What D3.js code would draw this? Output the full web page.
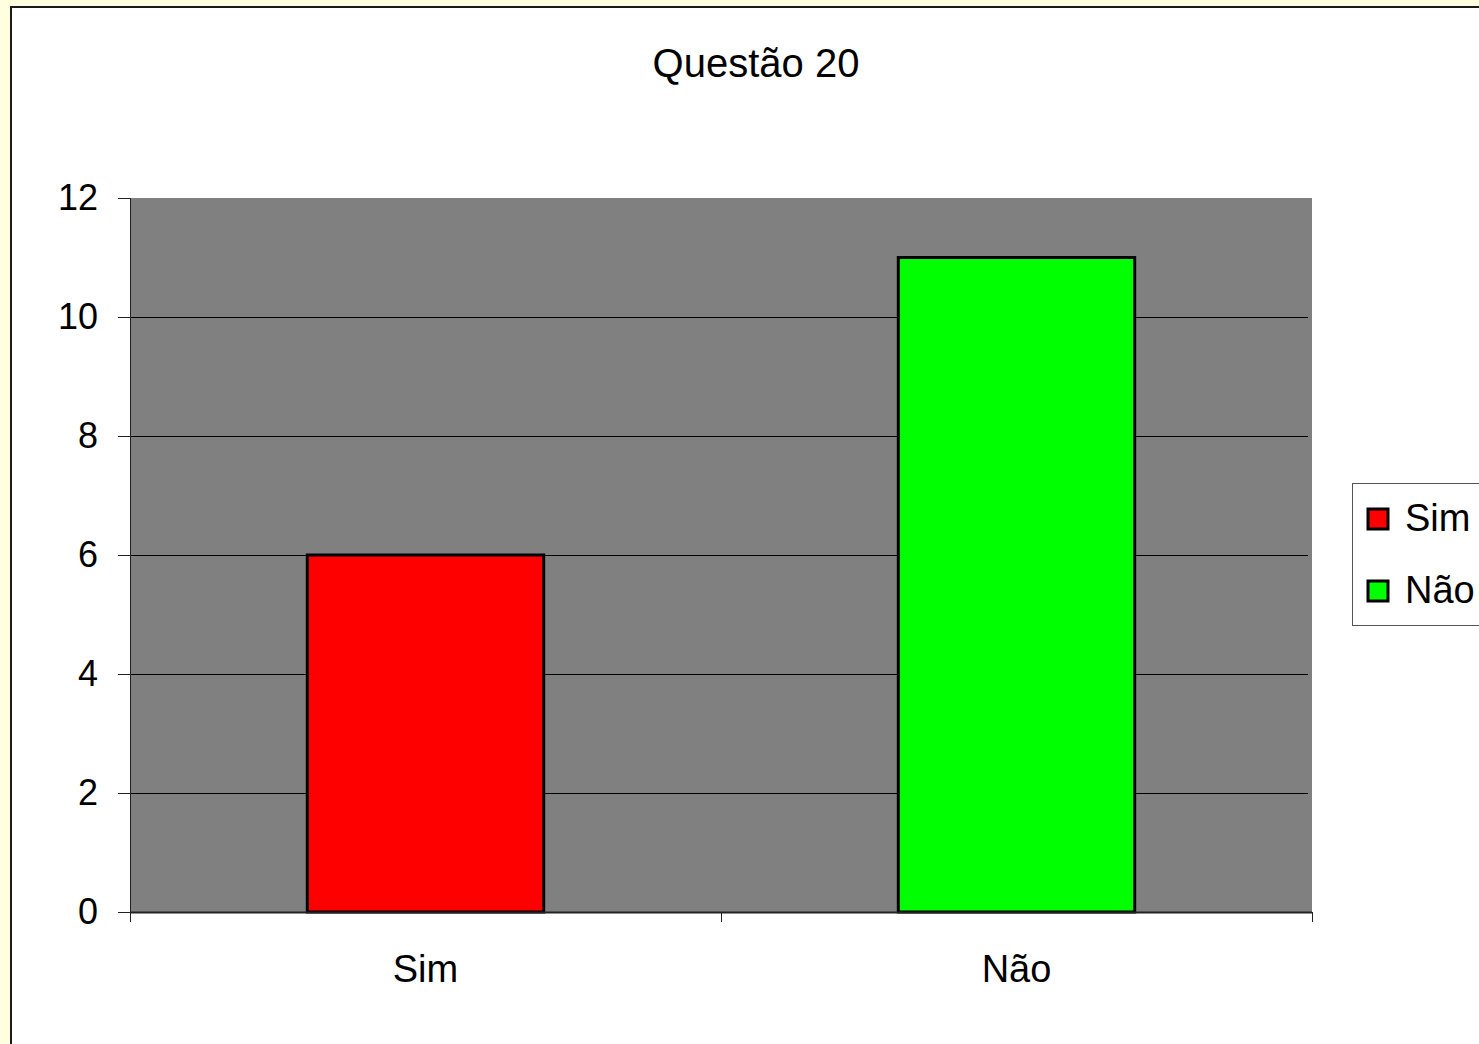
<!DOCTYPE html>
<meta charset="utf-8">
<script src="https://d3js.org/d3.v7.min.js"></script>
<style>
  body { margin: 0; background: #ffffe0; }
  svg { display: block; font-family: Arial, "Liberation Sans", sans-serif; }
</style>
<div id="chart"></div>
<script>

// data
var categories = ["Sim", "Não"];
var values = [6, 11];
var colors = ["#ff0000", "#00ff00"];
var yTicks = [0, 2, 4, 6, 8, 10, 12];
var title = "Questão 20";

var W = 1479, H = 1044;
var plot = {left: 130, right: 1312, top: 198, bottom: 912};
var fs = 38;

var svg = d3.select("#chart").append("svg")
    .attr("width", W)
    .attr("height", H);

// chart area (white, bordered)
svg.append("rect")
    .attr("x", 11).attr("y", 7)
    .attr("width", W).attr("height", H)
    .attr("fill", "#ffffff")
    .attr("stroke", "#1a1a1a")
    .attr("stroke-width", 2);

var x = d3.scaleBand()
    .domain(categories)
    .range([plot.left, plot.right])
    .paddingInner(0.6)
    .paddingOuter(0.3);

var y = d3.scaleLinear()
    .domain([0, 12])
    .range([plot.bottom, plot.top]);

// plot background
svg.append("rect")
    .attr("x", plot.left).attr("y", plot.top)
    .attr("width", plot.right - plot.left)
    .attr("height", plot.bottom - plot.top)
    .attr("fill", "#808080");

// gridlines
svg.selectAll(".grid")
    .data(yTicks.filter(function(d) { return d > 0 && d < 12; }))
    .enter().append("line")
    .attr("x1", plot.left).attr("x2", plot.right - 4)
    .attr("y1", function(d) { return Math.round(y(d)) + 0.5; })
    .attr("y2", function(d) { return Math.round(y(d)) + 0.5; })
    .attr("stroke", "#000")
    .attr("stroke-width", 1);

// bars
svg.selectAll(".bar")
    .data(values)
    .enter().append("rect")
    .attr("class", "bar")
    .attr("x", function(d, i) { return x(categories[i]); })
    .attr("y", function(d) { return y(d); })
    .attr("width", x.bandwidth())
    .attr("height", function(d) { return y(0) - y(d); })
    .attr("fill", function(d, i) { return colors[i]; })
    .attr("stroke", "#000")
    .attr("stroke-width", 3);

// y axis
var yAxis = d3.axisLeft(y).tickValues(yTicks).tickSize(12).tickPadding(20);
var gy = svg.append("g")
    .attr("transform", "translate(" + plot.left + ",0)")
    .call(yAxis);
gy.selectAll("text").attr("font-size", 36).attr("font-family", "Arial, 'Liberation Sans', sans-serif").attr("fill", "#000");
gy.selectAll("line, path").attr("stroke", "#222");
gy.select(".domain").attr("d", "M0.5," + plot.top + "V" + (plot.bottom + 10));

// x axis with boundary ticks
var gx = svg.append("g")
    .attr("transform", "translate(0," + plot.bottom + ")");
gx.append("line")
    .attr("x1", plot.left).attr("x2", plot.right)
    .attr("y1", 0.5).attr("y2", 0.5)
    .attr("stroke", "#222").attr("stroke-width", 2);
var bounds = [plot.left, (plot.left + plot.right) / 2, plot.right];
gx.selectAll(".tk")
    .data(bounds)
    .enter().append("line")
    .attr("x1", function(d) { return Math.round(d) + 0.5; })
    .attr("x2", function(d) { return Math.round(d) + 0.5; })
    .attr("y1", 0).attr("y2", 10)
    .attr("stroke", "#222");
gx.selectAll(".lbl")
    .data(categories)
    .enter().append("text")
    .attr("x", function(d) { return x(d) + x.bandwidth() / 2; })
    .attr("y", 70)
    .attr("text-anchor", "middle")
    .attr("font-size", fs)
    .text(function(d) { return d; });

// title
svg.append("text")
    .attr("x", 756).attr("y", 77)
    .attr("text-anchor", "middle")
    .attr("font-size", 40)
    .text(title);

// legend
var lg = svg.append("g").attr("transform", "translate(1352,483)");
lg.append("rect")
    .attr("x", 0.5).attr("y", 0.5)
    .attr("width", 140).attr("height", 142)
    .attr("fill", "#fff")
    .attr("stroke", "#555");
var items = lg.selectAll(".item")
    .data(categories)
    .enter().append("g")
    .attr("transform", function(d, i) { return "translate(0," + (36 + i * 72) + ")"; });
items.append("rect")
    .attr("x", 16).attr("y", -10)
    .attr("width", 20).attr("height", 20)
    .attr("fill", function(d, i) { return colors[i]; })
    .attr("stroke", "#000")
    .attr("stroke-width", 3);
items.append("text")
    .attr("x", 53).attr("y", 12)
    .attr("font-size", fs)
    .text(function(d) { return d; });

</script>
